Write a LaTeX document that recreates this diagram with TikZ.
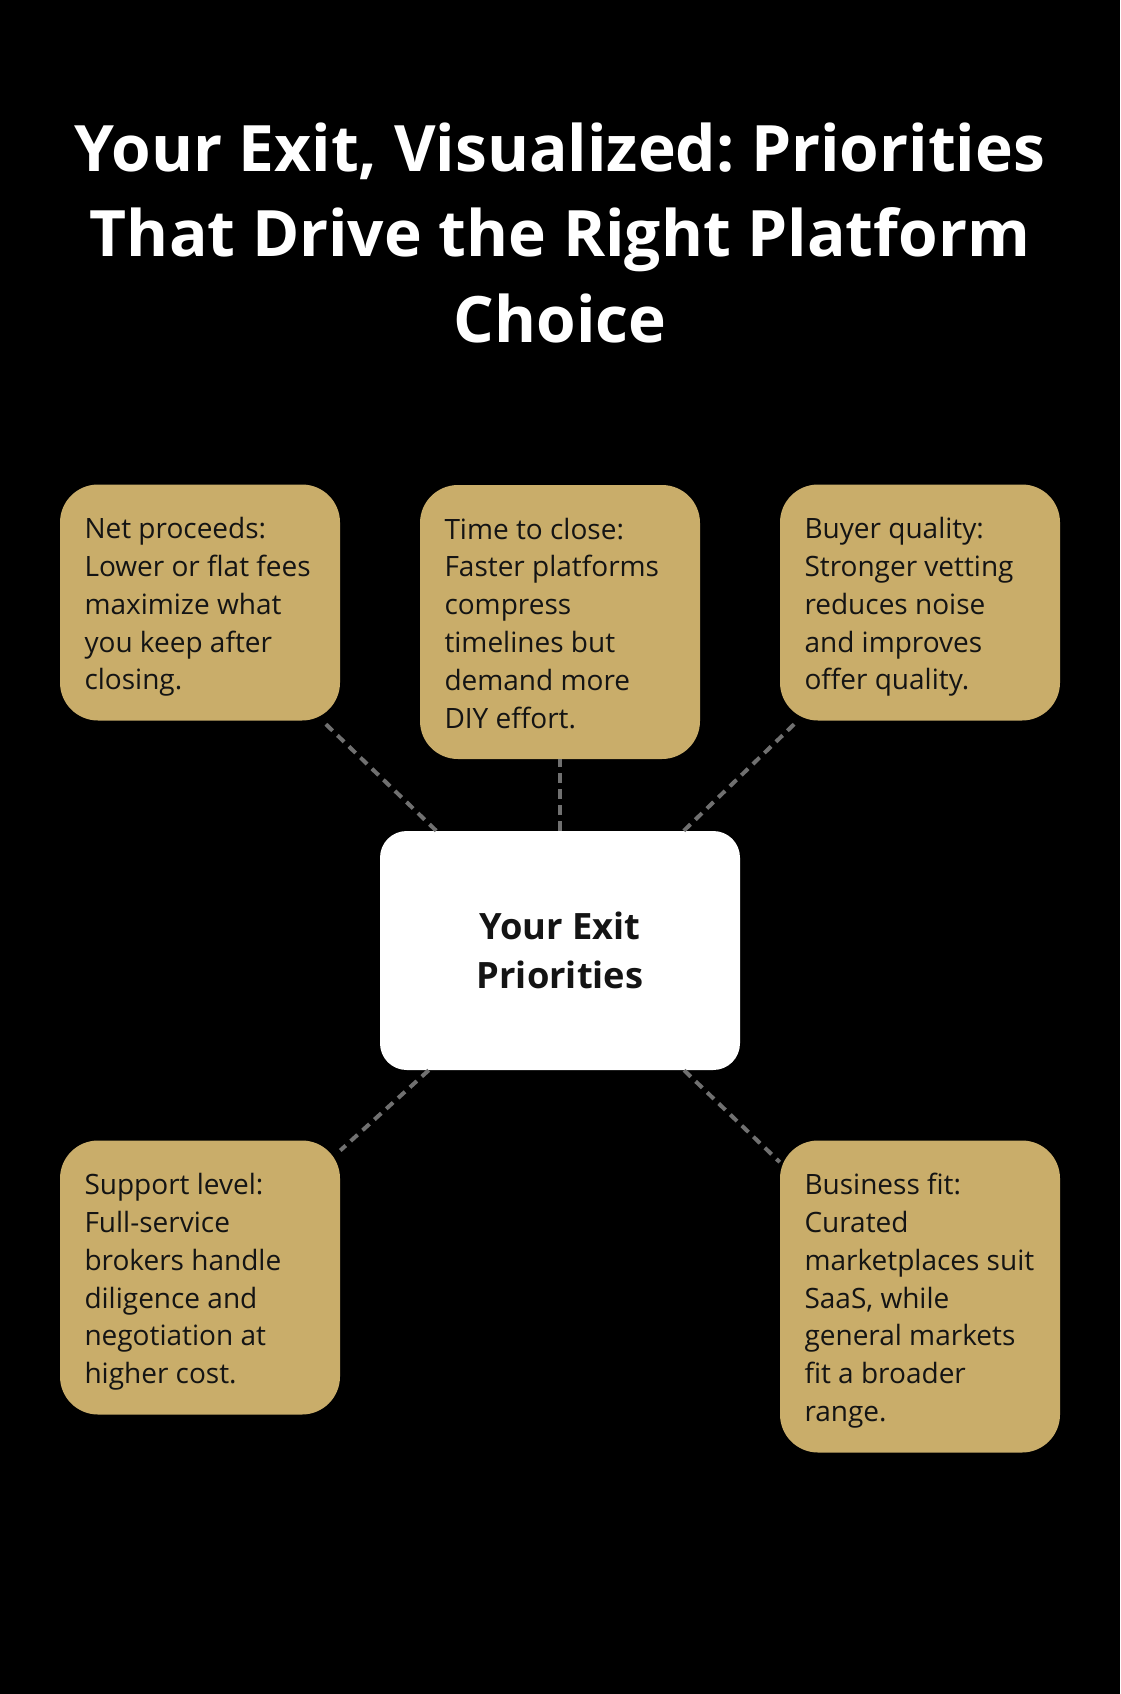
\documentclass[tikz,border=0pt]{standalone}
\usepackage{fontspec}
\setmainfont{Open Sans}
\newfontfamily\osans{Open Sans}
\frenchspacing
\definecolor{gold}{RGB}{201,173,106}
\definecolor{conn}{RGB}{112,112,112}
\definecolor{ink}{RGB}{20,20,20}
\newcommand{\bst}{\rule[-5.45pt]{0pt}{28.35pt}}
\tikzset{
  gbox/.style={shape=rectangle, fill=gold, rounded corners=28.5pt, inner sep=0pt, minimum width=210pt},
  gtext/.style={anchor=north west, inner sep=0pt, align=left, text=ink,
    font=\osans\fontsize{21pt}{28.35pt}\selectfont},
  cbox/.style={shape=rectangle, fill=white, rounded corners=20pt, inner sep=0pt,
    minimum width=270pt, minimum height=179.25pt, align=center, text=ink,
    font=\osans\bfseries\fontsize{27.2pt}{36.3pt}\selectfont},
  titletext/.style={anchor=base, inner sep=0pt, align=center, text=white,
    font=\osans\bfseries\fontsize{48pt}{64pt}\selectfont},
  connector/.style={draw=conn, line width=3pt, dash pattern=on 7pt off 5pt}
}
\begin{document}
\begin{tikzpicture}[x=0.75pt, y=-0.75pt]
\useasboundingbox (0,0) rectangle (1120,1694);
\fill[black] (0,0) rectangle (1120,1694);

\node[titletext] (title) at (560,342) {\frenchspacing Your Exit, Visualized: Priorities\\That Drive the Right Platform\\Choice};

\node[gbox, minimum height=177pt] (b1) at (200,602.5) {};
\node[gbox, minimum height=205.5pt] (b2) at (560,622) {};
\node[gbox, minimum height=177pt] (b3) at (920,602.5) {};
\node[gbox, minimum height=205.5pt] (b4) at (200,1277.5) {};
\node[gbox, minimum height=234pt] (b5) at (920,1296.5) {};

\node[cbox] (c) at (560,950.5) {Your Exit\\Priorities};

\node[gtext] (t1) at ([shift={(24.5,23.6)}]b1.north west) {\bst Net proceeds:\\\bst Lower or flat fees\\\bst maximize what\\\bst you keep after\\\bst closing.};
\node[gtext] (t2) at ([shift={(24.5,23.6)}]b2.north west) {\bst Time to close:\\\bst Faster platforms\\\bst compress\\\bst timelines but\\\bst demand more\\\bst DIY effort.};
\node[gtext] (t3) at ([shift={(24.5,23.6)}]b3.north west) {\bst Buyer quality:\\\bst Stronger vetting\\\bst reduces noise\\\bst and improves\\\bst offer quality.};
\node[gtext] (t4) at ([shift={(24.5,23.6)}]b4.north west) {\bst Support level:\\\bst Full-service\\\bst brokers handle\\\bst diligence and\\\bst negotiation at\\\bst higher cost.};
\node[gtext] (t5) at ([shift={(24.5,23.6)}]b5.north west) {\bst Business fit:\\\bst Curated\\\bst marketplaces suit\\\bst SaaS, while\\\bst general markets\\\bst fit a broader\\\bst range.};

\draw[connector] (c) -- (b1);
\draw[connector] (c) -- (b2);
\draw[connector] (c) -- (b3);
\draw[connector] (c) -- (b4);
\draw[connector] (c) -- (b5);
\end{tikzpicture}
\end{document}
